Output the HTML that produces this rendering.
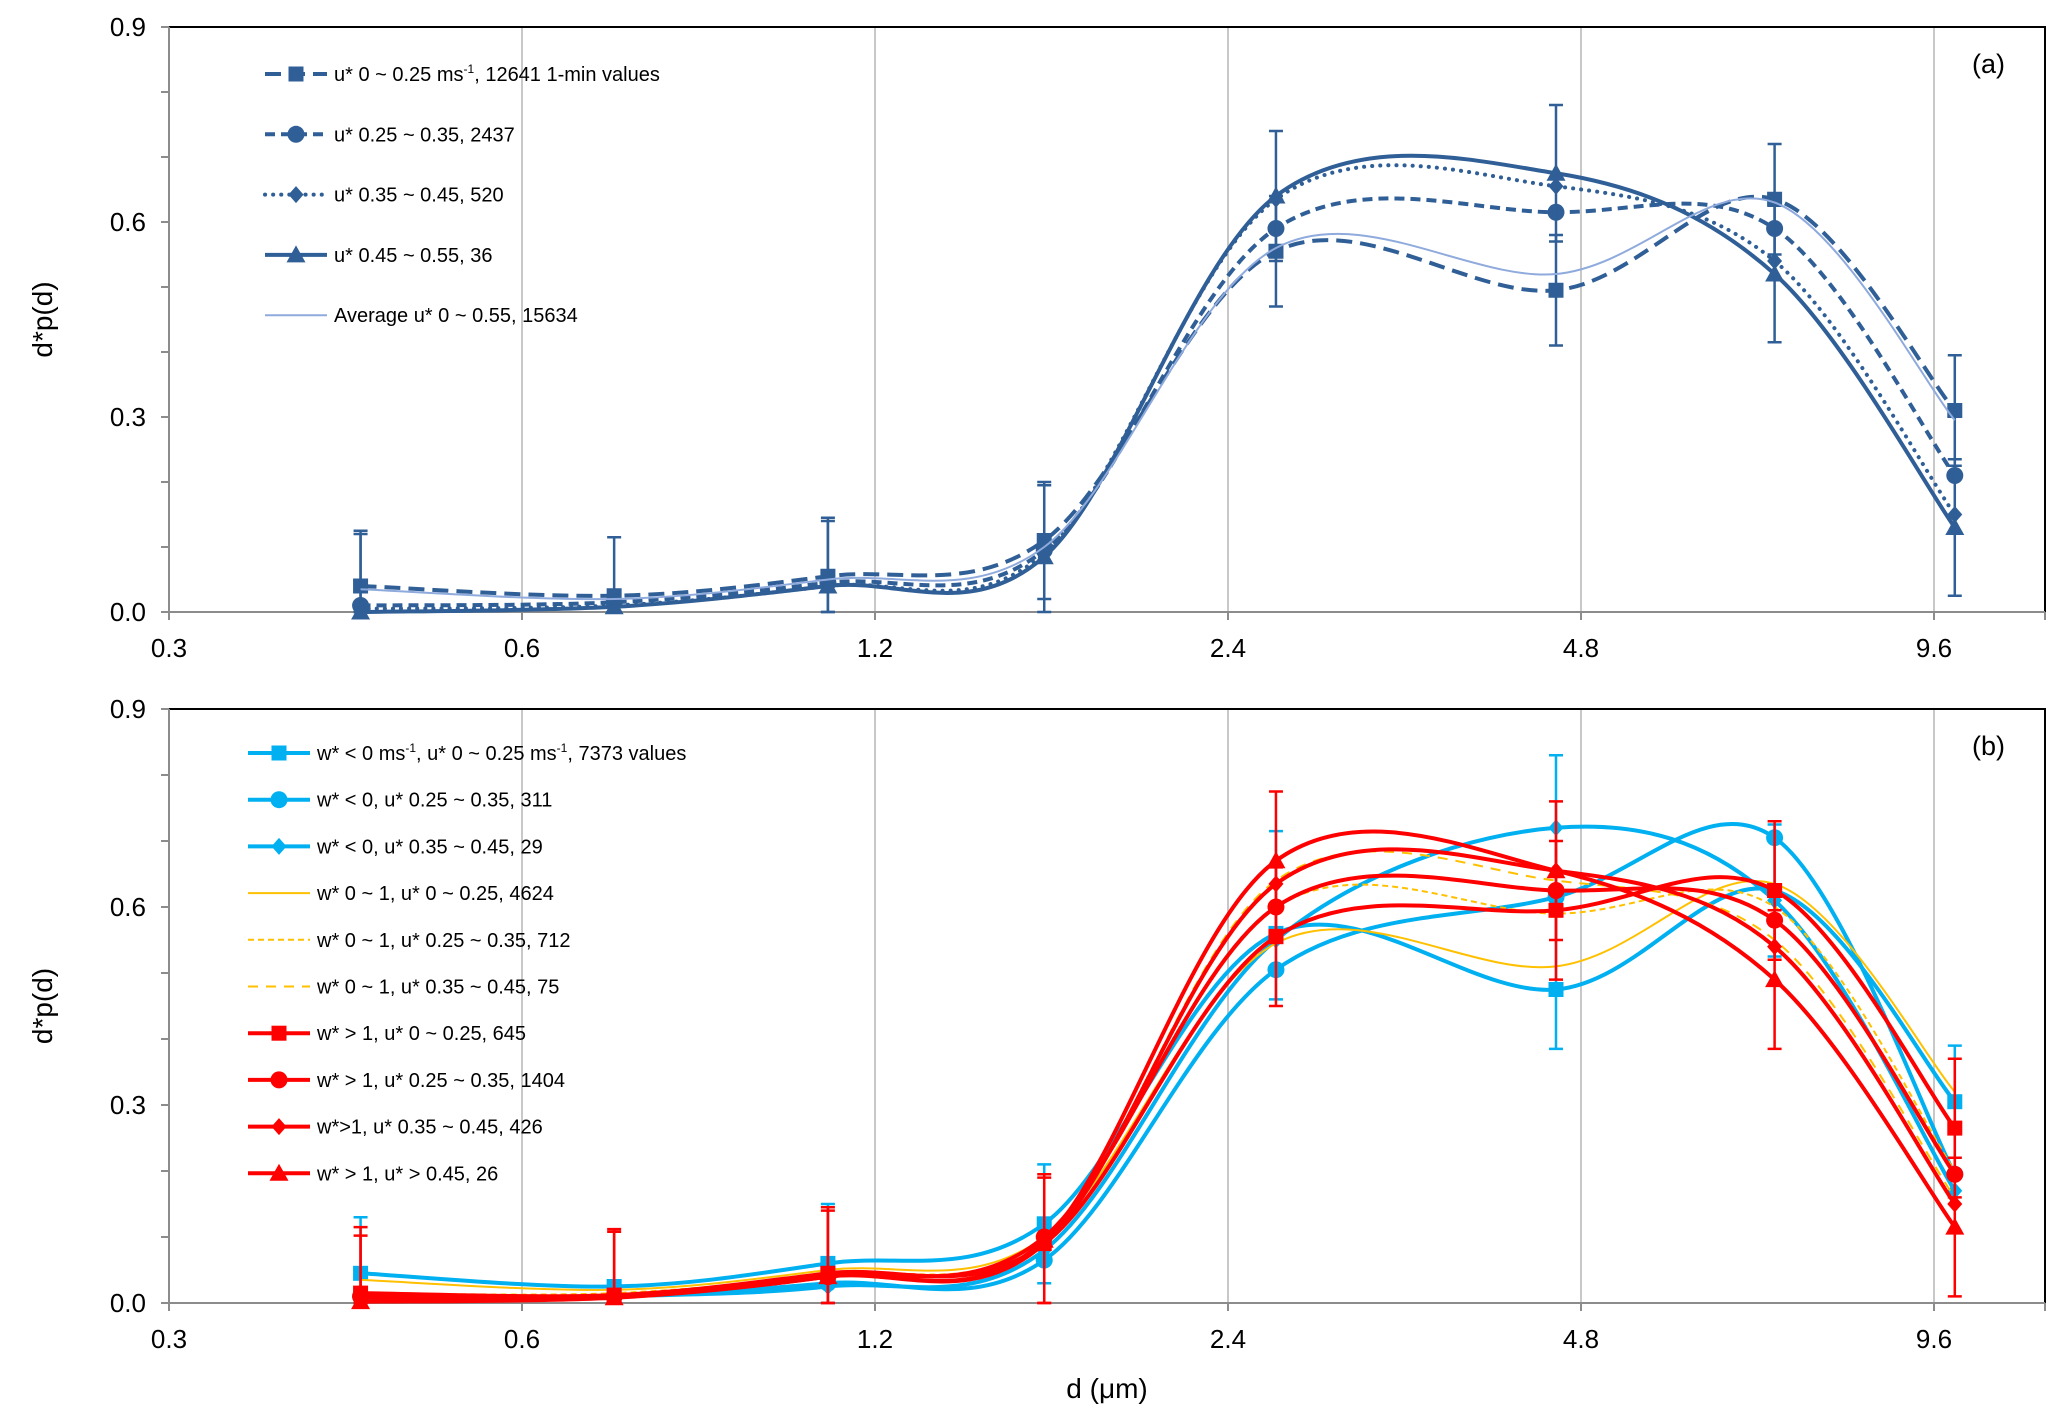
<!DOCTYPE html>
<html><head><meta charset="utf-8">
<style>
html,body{margin:0;padding:0;background:#fff;}
svg{display:block;font-family:"Liberation Sans",sans-serif;}
</style></head>
<body>
<svg id="chart" width="2067" height="1424" viewBox="0 0 2067 1424" xmlns="http://www.w3.org/2000/svg"></svg>
<script>
// ---------- data ----------
const diameters = [0.437, 0.719, 1.094, 1.673, 2.637, 4.57, 7.02, 10.0];
const xTickValues = [0.3, 0.6, 1.2, 2.4, 4.8, 9.6];
const xTickLabels = ["0.3", "0.6", "1.2", "2.4", "4.8", "9.6"];
const yTickValues = [0, 0.3, 0.6, 0.9];
const yTickLabels = ["0.0", "0.3", "0.6", "0.9"];

// panel (a)
const a_u0_025 = [0.04, 0.025, 0.055, 0.11, 0.555, 0.495, 0.635, 0.31];
const a_u025_035 = [0.01, 0.015, 0.045, 0.095, 0.59, 0.615, 0.59, 0.21];
const a_u035_045 = [0.005, 0.01, 0.04, 0.09, 0.635, 0.655, 0.54, 0.15];
const a_u045_055 = [0.0, 0.008, 0.04, 0.085, 0.64, 0.675, 0.52, 0.13];
const a_avg = [0.035, 0.02, 0.05, 0.1, 0.56, 0.52, 0.63, 0.295];
const a_err1 = [0.085, 0.09, 0.09, 0.09, 0.085, 0.085, 0.085, 0.085];
const a_err4 = [0.12, 0.0, 0.1, 0.11, 0.1, 0.105, 0.105, 0.105];

// panel (b)
const b_neg_u0 = [0.045, 0.025, 0.06, 0.12, 0.56, 0.475, 0.625, 0.305];
const b_neg_u025 = [0.01, 0.01, 0.03, 0.065, 0.505, 0.615, 0.705, 0.195];
const b_neg_u035 = [0.005, 0.01, 0.025, 0.08, 0.55, 0.72, 0.61, 0.17];
const b_mid_u0 = [0.035, 0.02, 0.05, 0.1, 0.545, 0.51, 0.635, 0.32];
const b_mid_u025 = [0.015, 0.015, 0.045, 0.1, 0.6, 0.59, 0.6, 0.2];
const b_mid_u035 = [0.01, 0.01, 0.04, 0.09, 0.64, 0.64, 0.55, 0.16];
const b_pos_u0 = [0.015, 0.012, 0.045, 0.09, 0.555, 0.595, 0.625, 0.265];
const b_pos_u025 = [0.01, 0.01, 0.04, 0.1, 0.6, 0.625, 0.58, 0.195];
const b_pos_u035 = [0.008, 0.01, 0.04, 0.09, 0.635, 0.655, 0.54, 0.15];
const b_pos_u045 = [0.002, 0.008, 0.04, 0.095, 0.67, 0.655, 0.49, 0.115];
const b_errCyanUp = [0.085, 0.0, 0.09, 0.09, 0.155, 0.355, 0.1, 0.085];
const b_errCyanDown = [0.085, 0.0, 0.09, 0.09, 0.1, 0.09, 0.1, 0.085];
const b_errRed = [0.1, 0.1, 0.1, 0.1, 0.105, 0.105, 0.105, 0.105];

// ---------- drawing ----------
const NS = "http://www.w3.org/2000/svg";
const svg = document.getElementById("chart");
function mk(tag, attrs, parent) {
  const e = document.createElementNS(NS, tag);
  for (const k in attrs) e.setAttribute(k, attrs[k]);
  (parent || svg).appendChild(e);
  return e;
}
const X0 = 169, X1 = 2045, OCT = 353;
function xScale(d) { return X0 + Math.log2(d / 0.3) * OCT; }
function makeY(top, bottom) { return v => bottom - v / 0.9 * (bottom - top); }

const DARK = "#2F5F96", LIGHT = "#8FAADC", CYAN = "#00B0F0", YEL = "#FFC000", RED = "#FF0000";

function smoothPath(pts) {
  let d = "M" + pts[0][0] + "," + pts[0][1];
  for (let i = 0; i < pts.length - 1; i++) {
    const p0 = pts[i - 1] || pts[i], p1 = pts[i], p2 = pts[i + 1], p3 = pts[i + 2] || p2;
    const c1x = p1[0] + (p2[0] - p0[0]) / 6, c1y = p1[1] + (p2[1] - p0[1]) / 6;
    const c2x = p2[0] - (p3[0] - p1[0]) / 6, c2y = p2[1] - (p3[1] - p1[1]) / 6;
    d += " C" + c1x + "," + c1y + " " + c2x + "," + c2y + " " + p2[0] + "," + p2[1];
  }
  return d;
}
function marker(g, type, x, y, color, s) {
  let e;
  if (type === "square") e = mk("rect", {x: x - s / 2, y: y - s / 2, width: s, height: s, fill: color}, g);
  else if (type === "circle") e = mk("circle", {cx: x, cy: y, r: s / 2 + 1, fill: color}, g);
  else if (type === "diamond") e = mk("polygon", {points: `${x},${y - s / 2 - 1} ${x + s / 2},${y} ${x},${y + s / 2 + 1} ${x - s / 2},${y}`, fill: color}, g);
  else if (type === "triangle") e = mk("polygon", {points: `${x},${y - s / 2 - 2} ${x + s / 2 + 2},${y + s / 2} ${x - s / 2 - 2},${y + s / 2}`, fill: color}, g);
  if (e) {
    
    
  }
}

function drawPanel(top, bottom, label, series, legendX, legendY0, legendDy, panelName) {
  const y = makeY(top, bottom);
  const g = mk("g", {});
  
  
  xTickValues.forEach((v, i) => {
    if (i === 0) return;
    const gl = mk("line", {x1: xScale(v), x2: xScale(v), y1: top, y2: bottom, stroke: "#c8c8c8", "stroke-width": 2}, g);
    
    
  });
  const fr = mk("path", {d: `M${X0},${top} H${X1} V${bottom}`, fill: "none", stroke: "#000", "stroke-width": 2}, g);
  
  
  const ya = mk("line", {x1: X0, x2: X0, y1: top, y2: bottom + 8, stroke: "#8c8c8c", "stroke-width": 2}, g);
  
  
  const xa = mk("line", {x1: X0 - 8, x2: X1, y1: bottom, y2: bottom, stroke: "#8c8c8c", "stroke-width": 2}, g);
  
  
  for (let k = 0; k <= 9; k++) {
    const t = mk("line", {x1: X0 - 8, x2: X0, y1: y(k / 10), y2: y(k / 10), stroke: "#8c8c8c", "stroke-width": 2}, g);
    
    
  }
  yTickValues.forEach((v, i) => {
    const t = mk("text", {x: 146, y: y(v) + 9, "font-size": 26, "text-anchor": "end", fill: "#000"}, g);
    t.textContent = yTickLabels[i];
    
    
  });
  xTickValues.forEach((v, i) => {
    const tk = mk("line", {x1: xScale(v), x2: xScale(v), y1: bottom, y2: bottom + 8, stroke: "#8c8c8c", "stroke-width": 2}, g);
    
    
    const t = mk("text", {x: xScale(v), y: bottom + 45, "font-size": 26, "text-anchor": "middle", fill: "#000"}, g);
    t.textContent = xTickLabels[i];
    
    
  });
  const xt12 = mk("line", {x1: X1, x2: X1, y1: bottom, y2: bottom + 8, stroke: "#8c8c8c", "stroke-width": 2}, g);
  
  
  const yt = mk("text", {x: 0, y: 0, "font-size": 28, "text-anchor": "middle", transform: `translate(52,${(top + bottom) / 2}) rotate(-90)`}, g);
  yt.textContent = "d*p(d)";
  
  
  const pl = mk("text", {x: X1 - 40, y: top + 46, "font-size": 27, "text-anchor": "end"}, g);
  pl.textContent = label;
  
  

  series.forEach(s => {
    const sg = mk("g", {}, g);
    
    
    if (s.err) {
      const lowArr = s.errLow || s.err;
      diameters.forEach((d, i) => {
        const x = xScale(d), v = s.vals[i], e = s.err[i], el = lowArr[i];
        if (!e && !el) return;
        const yt2 = y(v + e), yb = y(Math.max(0, v - el));
        const eb = mk("path", {d: `M${x},${yt2} V${yb} M${x - 7},${yt2} H${x + 7} M${x - 7},${yb} H${x + 7}`, stroke: s.color, "stroke-width": 2.5, fill: "none"}, sg);
        
        
      });
    }
    const pts = diameters.map((d, i) => [xScale(d), y(s.vals[i])]);
    const ln = mk("path", {d: smoothPath(pts), fill: "none", stroke: s.color, "stroke-width": s.w, "stroke-dasharray": s.dash || "none", "stroke-linecap": s.cap || "butt"}, sg);
    
    
    if (s.marker) pts.forEach(p => marker(sg, s.marker, p[0], p[1], s.color, 15));
    const ly = legendY0 + legendDy * s.li;
    const lg = mk("g", {}, g);
    
    
    const ll = mk("line", {x1: legendX, x2: legendX + 62, y1: ly, y2: ly, stroke: s.color, "stroke-width": s.w, "stroke-dasharray": s.dash || "none", "stroke-linecap": s.cap || "butt"}, lg);
    
    
    if (s.marker) marker(lg, s.marker, legendX + 31, ly, s.color, 15);
    const lt = mk("text", {x: legendX + 69, y: ly + 7, "font-size": 20, fill: "#000"}, lg);
    lt.innerHTML = s.label;
    
    
  });
}

const sup = '<tspan font-size="12" dy="-8">-1</tspan><tspan dy="8">';
drawPanel(27, 612, "(a)", [
  {name: "series-u-0-025", vals: a_u0_025, err: a_err1, color: DARK, w: 4, dash: "16 8", marker: "square", li: 0, label: 'u* 0 ~ 0.25 ms' + sup + ', 12641 1-min values</tspan>'},
  {name: "series-u-025-035", vals: a_u025_035, err: null, color: DARK, w: 4, dash: "10 6", marker: "circle", li: 1, label: 'u* 0.25 ~ 0.35, 2437'},
  {name: "series-u-035-045", vals: a_u035_045, err: null, color: DARK, w: 4, dash: "0.1 8", cap: "round", marker: "diamond", li: 2, label: 'u* 0.35 ~ 0.45, 520'},
  {name: "series-u-045-055", vals: a_u045_055, err: a_err4, color: DARK, w: 4, marker: "triangle", li: 3, label: 'u* 0.45 ~ 0.55, 36'},
  {name: "series-average", vals: a_avg, err: null, color: LIGHT, w: 2, li: 4, label: 'Average u* 0 ~ 0.55, 15634'}
], 265, 74, 60.3, "panel-a");

drawPanel(709, 1303, "(b)", [
  {name: "series-wneg-u0", vals: b_neg_u0, err: b_errCyanUp, errLow: b_errCyanDown, color: CYAN, w: 4, marker: "square", li: 0, label: 'w* &lt; 0 ms' + sup + ', u* 0 ~ 0.25 ms</tspan>' + sup + ', 7373 values</tspan>'},
  {name: "series-wneg-u025", vals: b_neg_u025, err: null, color: CYAN, w: 4, marker: "circle", li: 1, label: 'w* &lt; 0, u* 0.25 ~ 0.35, 311'},
  {name: "series-wneg-u035", vals: b_neg_u035, err: null, color: CYAN, w: 4, marker: "diamond", li: 2, label: 'w* &lt; 0, u* 0.35 ~ 0.45, 29'},
  {name: "series-wmid-u0", vals: b_mid_u0, err: null, color: YEL, w: 2, li: 3, label: 'w* 0 ~ 1, u* 0 ~ 0.25, 4624'},
  {name: "series-wmid-u025", vals: b_mid_u025, err: null, color: YEL, w: 2, dash: "6 4", li: 4, label: 'w* 0 ~ 1, u* 0.25 ~ 0.35, 712'},
  {name: "series-wmid-u035", vals: b_mid_u035, err: null, color: YEL, w: 2, dash: "10 8", li: 5, label: 'w* 0 ~ 1, u* 0.35 ~ 0.45, 75'},
  {name: "series-wpos-u0", vals: b_pos_u0, err: b_errRed, color: RED, w: 4, marker: "square", li: 6, label: 'w* &gt; 1, u* 0 ~ 0.25, 645'},
  {name: "series-wpos-u025", vals: b_pos_u025, err: null, color: RED, w: 4, marker: "circle", li: 7, label: 'w* &gt; 1, u* 0.25 ~ 0.35, 1404'},
  {name: "series-wpos-u035", vals: b_pos_u035, err: null, color: RED, w: 4, marker: "diamond", li: 8, label: 'w*&gt;1, u* 0.35 ~ 0.45, 426'},
  {name: "series-wpos-u045", vals: b_pos_u045, err: b_errRed, color: RED, w: 4, marker: "triangle", li: 9, label: 'w* &gt; 1, u* &gt; 0.45, 26'}
], 248, 753, 46.7, "panel-b");

const xt = mk("text", {x: 1107, y: 1398, "font-size": 28, "text-anchor": "middle"});
xt.textContent = "d (μm)";


</script>
</body></html>
